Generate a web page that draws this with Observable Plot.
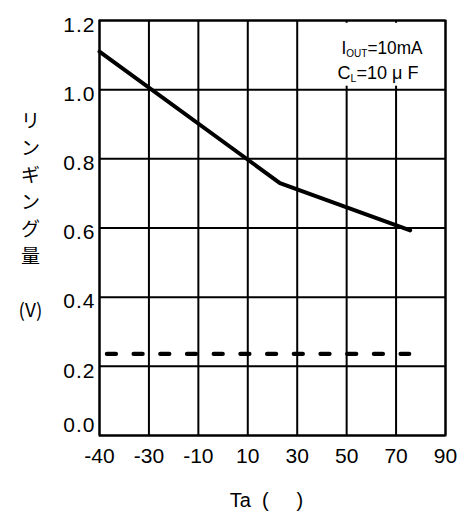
<!DOCTYPE html>
<html>
<head>
<meta charset="utf-8">
<script src="https://cdn.jsdelivr.net/npm/d3@7"></script>
<script src="https://cdn.jsdelivr.net/npm/@observablehq/plot@0.6"></script>
<style>
  html, body { margin: 0; padding: 0; background: #fff; }
  #chart svg { display: block; }
  #chart g[aria-label="y-axis tick label"] text { letter-spacing: 1px; }
</style>
</head>
<body>
<div id="chart"></div>
<script>
// Axis ticks (positions on an evenly spaced temperature axis) and their printed labels
const xTicks = [-50, -30, -10, 10, 30, 50, 70, 90];
const xTickLabels = ["-40", "-30", "-10", "10", "30", "50", "70", "90"];
const yTicks = [0, 0.2, 0.4, 0.6, 0.8, 1.0, 1.2];
const yTickLabels = ["0.0", "0.2", "0.4", "0.6", "0.8", "1.0", "1.2"];

// Solid curve: ringing amount vs Ta
const curveTemp = [-50, 23, 75.7];
const curveRinging = [1.11, 0.73, 0.593];

// Dashed reference line
const dashTemp = [-47, 75.3];
const dashRinging = [0.236, 0.236];

// Condition note
const noteLines = [
  {main: "I", sub: "OUT", rest: "=10mA"},
  {main: "C", sub: "L", rest: "=10 μ F"}
];
const noteBox = [{x1: 43, x2: 88, y1: 1.01, y2: 1.192}];

const yTitle = "リ\nン\nギ\nン\nグ\n量\n\n(V)";
const xTitle = "Ta\u00a0\u00a0(\u00a0\u00a0\u00a0\u00a0\u00a0)";

const curve = curveTemp.map((t, i) => ({t, v: curveRinging[i]}));
const dash = dashTemp.map((t, i) => ({t, v: dashRinging[i]}));

const yFmt = d => yTickLabels[yTicks.indexOf(d)];

const plot = Plot.plot({
  width: 460,
  height: 513,
  marginLeft: 99,
  marginRight: 15,
  marginTop: 20,
  marginBottom: 78,
  style: {fontFamily: "'Liberation Sans', Arial, sans-serif", color: "#000", background: "#fff"},
  x: {domain: [-50, 90]},
  y: {domain: [0, 1.2]},
  marks: [
    Plot.gridX(xTicks, {stroke: "#000", strokeOpacity: 1, strokeWidth: 2}),
    Plot.gridY(yTicks, {stroke: "#000", strokeOpacity: 1, strokeWidth: 2}),
    Plot.rect(noteBox, {x1: "x1", x2: "x2", y1: "y1", y2: "y2", fill: "#fff"}),
    Plot.frame({stroke: "#000", strokeWidth: 2}),
    Plot.line(dash, {x: "t", y: "v", stroke: "#000", strokeWidth: 4.3, strokeDasharray: "9,17.7"}),
    Plot.line(curve, {x: "t", y: "v", stroke: "#000", strokeWidth: 4, strokeLinejoin: "miter"}),
    Plot.axisX(xTicks, {
      tickSize: 0, tickPadding: 13, label: null,
      tickFormat: d => xTickLabels[xTicks.indexOf(d)],
      fontSize: 21
    }),
    Plot.axisY(yTicks.slice(1), {
      tickSize: 0, tickPadding: 4, label: null, dy: 4.5,
      tickFormat: yFmt, fontSize: 21
    }),
    Plot.axisY(yTicks.slice(0, 1), {
      tickSize: 0, tickPadding: 4, label: null, dy: -10,
      tickFormat: yFmt, fontSize: 21
    }),
    Plot.text([noteLines[0]], {text: d => d.main + d.sub + d.rest, frameAnchor: "top-right", textAnchor: "end",
      lineAnchor: "bottom", dx: -23, dy: 33, fontSize: 19, className: "note"}),
    Plot.text([noteLines[1]], {text: d => d.main + d.sub + d.rest, frameAnchor: "top-right", textAnchor: "end",
      lineAnchor: "bottom", dx: -27, dy: 58, fontSize: 19, className: "note"}),
    Plot.text([yTitle], {text: d => d, frameAnchor: "left", textAnchor: "middle", lineAnchor: "middle",
      lineHeight: 1.42, dx: -69, dy: -14, fontSize: 19,
      fontFamily: "'Noto Sans CJK JP', 'Liberation Sans', sans-serif"}),
    Plot.text([xTitle], {text: d => d, frameAnchor: "bottom", textAnchor: "middle", lineAnchor: "middle",
      dx: -6, dy: 65, fontSize: 20})
  ]
});

// Rebuild note texts with subscripts, condensed to the reference width
d3.select(plot).selectAll("g.note text").each(function(_, i) {
  const n = noteLines[i];
  const t = d3.select(this);
  t.text(null);
  t.attr("textLength", 81).attr("lengthAdjust", "spacingAndGlyphs");
  t.append("tspan").text(n.main);
  t.append("tspan").attr("font-size", 11).attr("dy", 3).text(n.sub);
  t.append("tspan").attr("dy", -3).text(n.rest);
});

document.getElementById("chart").appendChild(plot);
</script>
</body>
</html>
